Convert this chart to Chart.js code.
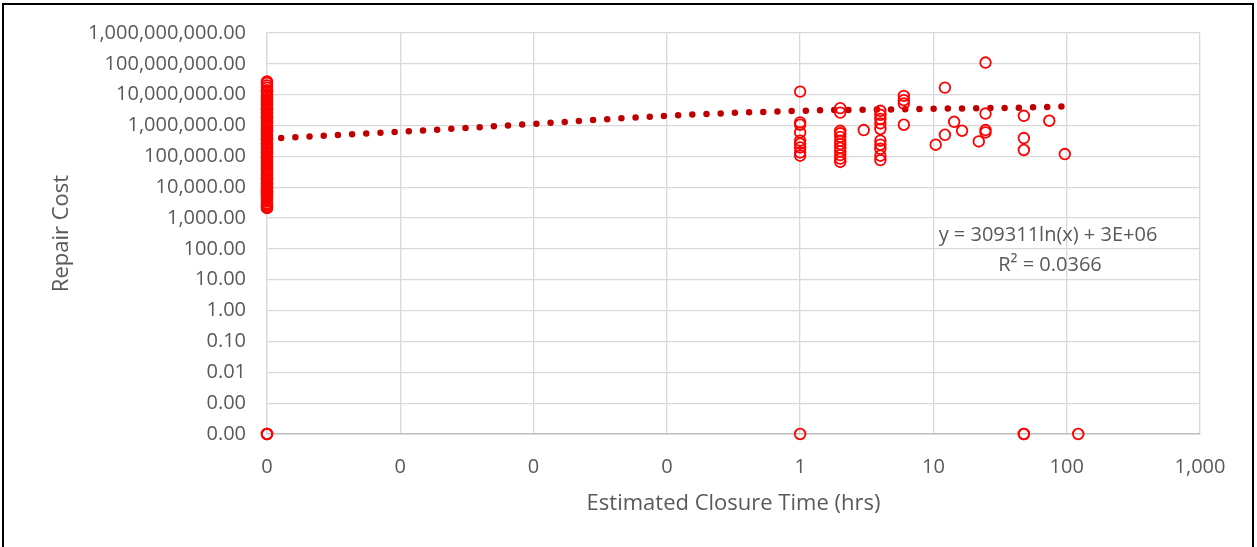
<!DOCTYPE html>
<html>
<head>
<meta charset="utf-8">
<script src="https://cdn.jsdelivr.net/npm/chart.js@4.4.0/dist/chart.umd.min.js"></script>
<style>
  html, body { margin: 0; padding: 0; background: #fff; overflow: hidden; }
  #frame { position: absolute; left: 2px; top: 3px; width: 1248px; height: 620px; border: 2px solid #000; }
  #chart { position: absolute; left: 0; top: 0; }
</style>
</head>
<body>
<div id="frame"></div>
<canvas id="chart" width="1257" height="547"></canvas>
<script>
// repair jobs with a closure time of 0 hrs
const zeroTimeCosts = [
  2100, 2300, 2600, 3000, 3500, 4100, 4800, 5600, 6500, 7600, 8900,
  10500, 12000, 14500, 17000, 20000, 24000, 28000, 33000, 39000, 46000,
  54000, 63000, 75000, 88000, 100000, 120000, 140000, 165000, 195000,
  230000, 270000, 320000, 375000, 440000, 520000, 610000, 720000, 850000,
  1000000, 1180000, 1400000, 1650000, 1950000, 2300000, 2700000, 3200000,
  3800000, 4500000, 5300000, 6200000, 7300000, 8600000, 10200000,
  12000000, 14000000, 17000000, 20000000, 24000000, 27000000,
  2200, 2800, 3800, 5200, 7000, 9700, 13000, 18500, 26000, 36000, 50000,
  69000, 95000, 130000, 180000, 250000, 345000, 480000, 660000, 920000,
  1280000, 1780000, 2480000, 3450000, 4800000, 6700000, 9300000, 13000000
];

// other repair jobs
const closureHrs = [
  1, 1, 1, 1, 1, 1, 1, 1, 1,
  2, 2, 2, 2, 2, 2, 2, 2, 2, 2, 2, 2,
  3,
  4, 4, 4, 4, 4, 4, 4, 4, 4, 4,
  6, 6, 6, 6,
  10.4, 12.2, 12.2, 14.3, 16.4, 21.9,
  24.6, 24.6, 24.6, 24.6,
  47.7, 47.7, 47.7,
  74, 96.8,
  0, 0, 0, 1, 47.7, 47.7, 122
];
const repairCost = [
  12600000, 1260000, 1060000, 597000, 322000, 257000, 195000, 134000, 105000,
  3670000, 2630000, 676000, 560000, 430000, 322000, 250000, 190000, 145000, 110000, 85000, 66000,
  713000,
  3000000, 2230000, 1630000, 1170000, 772000, 322000, 240000, 176000, 105000, 76000,
  9180000, 6660000, 5170000, 1060000,
  239000, 17000000, 502000, 1320000, 678000, 305000,
  110000000, 2450000, 713000, 597000,
  2070000, 393000, 161000,
  1430000, 119000,
  0, 0, 0, 0, 0, 0, 0
];

// logarithmic trendline as drawn: y = 309311ln(x) + 3E+06
const trendHrs = [0.0001, 0.001, 0.01, 0.1, 1, 10, 100, 115];
const trendCost = [373000, 628000, 1130000, 2070000, 3000000, 3480000, 4200000, 4360000];

const xTickValues = [0.0001, 0.001, 0.01, 0.1, 1, 10, 100, 1000];
const xTickLabels = ["0", "0", "0", "0", "1", "10", "100", "1,000"];
const yTickValues = [0.0001, 0.001, 0.01, 0.1, 1, 10, 100, 1000, 10000, 100000, 1000000, 10000000, 100000000, 1000000000];
const yTickLabels = ["0.00", "0.00", "0.01", "0.10", "1.00", "10.00", "100.00", "1,000.00", "10,000.00",
  "100,000.00", "1,000,000.00", "10,000,000.00", "100,000,000.00", "1,000,000,000.00"];

const xMin = xTickValues[0], xMax = xTickValues[xTickValues.length - 1];
const yMin = yTickValues[0], yMax = yTickValues[yTickValues.length - 1];

// zeros can't sit on a log axis, Excel puts them on the axis floor
const points = zeroTimeCosts.map(c => ({ x: xMin, y: c }))
  .concat(closureHrs.map((h, i) => ({
    x: h === 0 ? xMin : h,
    y: repairCost[i] === 0 ? yMin : repairCost[i]
  })));
const trend = trendHrs.map((h, i) => ({ x: h, y: trendCost[i] }));

const FONT = '"Open Sans", "Noto Sans", sans-serif';
const GREY = "#595959";

const trendLabel = {
  id: "trendLabel",
  afterDatasetsDraw(chart) {
    const ctx = chart.ctx;
    ctx.save();
    ctx.font = "20px " + FONT;
    ctx.fillStyle = GREY;
    ctx.textAlign = "center";
    ctx.textBaseline = "middle";
    ctx.fillText("y = 309311ln(x) + 3E+06", 1048, 235);
    ctx.fillText("R² = 0.0366", 1050, 265);
    ctx.restore();
  }
};

new Chart(document.getElementById("chart"), {
  type: "scatter",
  data: {
    datasets: [
      {
        label: "Repair Cost",
        data: points,
        pointStyle: "circle",
        pointRadius: 5.3,
        pointBorderWidth: 1.8,
        pointBorderColor: "#ff0000",
        pointBackgroundColor: "rgba(255,255,255,0)",
        clip: false
      },
      {
        label: "Log. (Repair Cost)",
        data: trend,
        showLine: true,
        pointRadius: 0,
        borderColor: "#c00000",
        borderWidth: 6.5,
        borderDash: [0, 14.2],
        borderCapStyle: "round",
        cubicInterpolationMode: "monotone",
        clip: false
      }
    ]
  },
  options: {
    responsive: false,
    animation: false,
    layout: { padding: { left: 0, top: 32, right: 57, bottom: 0 } },
    plugins: { legend: { display: false }, tooltip: { enabled: false } },
    scales: {
      x: {
        type: "logarithmic",
        min: xMin,
        max: xMax,
        afterBuildTicks: axis => { axis.ticks = xTickValues.map(v => ({ value: v })); },
        afterFit: axis => { axis.height = 113; },
        ticks: {
          autoSkip: false,
          maxRotation: 0,
          padding: 21,
          color: GREY,
          font: { family: FONT, size: 20 },
          callback: (v, i) => xTickLabels[i]
        },
        grid: { color: "#d9d9d9", lineWidth: 1.3, drawTicks: false },
        border: { color: "#bfbfbf", width: 1.5 },
        title: {
          display: true,
          text: "Estimated Closure Time (hrs)",
          color: GREY,
          font: { family: FONT, size: 22 },
          padding: { top: 0, bottom: 30 }
        }
      },
      y: {
        type: "logarithmic",
        min: yMin,
        max: yMax,
        afterBuildTicks: axis => { axis.ticks = yTickValues.map(v => ({ value: v })); },
        afterFit: axis => { axis.width = 267; },
        ticks: {
          autoSkip: false,
          padding: 21,
          color: GREY,
          font: { family: FONT, size: 20 },
          callback: (v, i) => yTickLabels[i]
        },
        grid: { color: "#d9d9d9", lineWidth: 1.3, drawTicks: false },
        border: { color: "#d9d9d9", width: 1.3 },
        title: {
          display: true,
          text: "Repair Cost",
          color: GREY,
          font: { family: FONT, size: 22 },
          padding: { top: 49, bottom: 0 }
        }
      }
    }
  },
  plugins: [trendLabel]
});
</script>
</body>
</html>
